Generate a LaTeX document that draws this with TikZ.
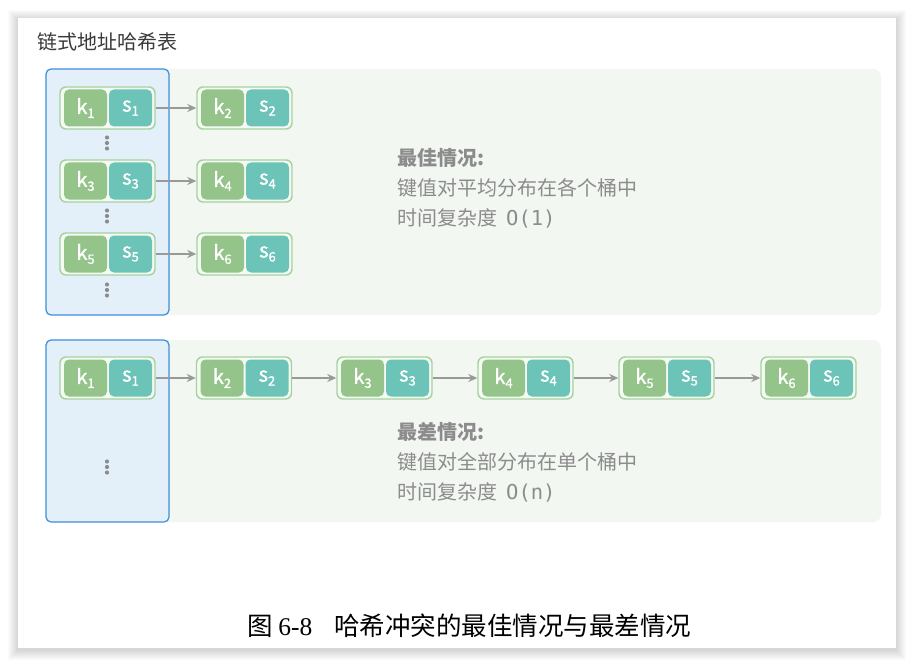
\documentclass[tikz,border=0pt]{standalone}
\usepackage{fontspec}
\setmainfont{Noto Sans CJK SC}
\newfontfamily\monof{DejaVu Sans Mono}
\newfontfamily\capnum{Liberation Serif}
\newfontfamily\cellf{Noto Sans CJK SC}[FakeBold=1.2]
\usetikzlibrary{arrows.meta,calc}
\definecolor{kfill}{HTML}{95C48B}
\definecolor{sfill}{HTML}{6CC3B8}
\definecolor{pairline}{HTML}{A3D39C}
\definecolor{pairfill}{HTML}{F5FAF4}
\definecolor{panelfill}{HTML}{F2F7F2}
\definecolor{bluefill}{HTML}{E3F0FA}
\definecolor{blueline}{HTML}{3D8FDB}
\definecolor{txtgray}{HTML}{8C8C8C}
\definecolor{titlegray}{HTML}{3A3A3A}
\definecolor{arrgray}{HTML}{999999}
\definecolor{dotgray}{HTML}{8C8C8C}
\newcommand\lab[2]{#1\raisebox{-4pt}{\fontsize{13}{13}\selectfont #2}}
\newcommand\kvp[4]{%
  \node[pairbox] (#1) at (#2,#3) {};
  \node[kbox] (#1k) at ([xshift=-22pt]#1.center) {\lab{k}{#4}};
  \node[sbox] (#1s) at ([xshift=23pt]#1.center) {\lab{s}{#4}};}
\newcommand\vdd[2]{\foreach \d in {-5.5,0,5.5} \fill[dotgray] (#1,#2+\d) circle (2.1);}
\begin{document}
\begin{tikzpicture}[x=1pt,y=-1pt,
  pairbox/.style={draw=pairline,fill=pairfill,line width=1.4pt,rounded corners=6pt,
    minimum width=95pt,minimum height=42pt,inner sep=0pt},
  cellbox/.style={rounded corners=5pt,minimum width=43pt,minimum height=37pt,inner sep=0pt,
    text=white,font=\cellf\fontsize{20}{20}\selectfont},
  kbox/.style={cellbox,fill=kfill},
  sbox/.style={cellbox,fill=sfill},
  arr/.style={draw=arrgray,line width=1.8pt,-{Stealth[length=9pt,width=8pt]}},
  desc/.style={anchor=west,text=txtgray,font=\fontsize{20}{20}\selectfont,inner sep=0pt},
  panel/.style={fill=panelfill,rounded corners=8pt},
  bucket/.style={fill=bluefill,draw=blueline,line width=1.2pt,rounded corners=5pt}]
\useasboundingbox (0,0) rectangle (913,666);
\fill[white] (0,0) rectangle (913,666);
% card shadow
\foreach \i in {1,...,10} {\fill[black,opacity=0.016] (18-\i,18-\i+2) rectangle (896+\i,648+\i+2);}
\fill[white] (18,18) rectangle (896,648);
% title
\node[anchor=west,text=titlegray,font=\fontsize{20}{20}\selectfont,inner sep=0pt] (title) at (37,42) {链式地址哈希表};
% panel 1
\path[panel] (46,69) rectangle (881,315);
\path[bucket] (46,69) rectangle (169,315);
\kvp{a1}{107.5}{108}{1}
\kvp{a3}{107.5}{181}{3}
\kvp{a5}{107.5}{254}{5}
\kvp{a2}{244.5}{108}{2}
\kvp{a4}{244.5}{181}{4}
\kvp{a6}{244.5}{254}{6}
\draw[arr] (a1.east) -- (a2.west);
\draw[arr] (a3.east) -- (a4.west);
\draw[arr] (a5.east) -- (a6.west);
\vdd{107}{143}
\vdd{107}{216}
\vdd{107}{290}
\node[desc,font=\fontsize{20}{20}\selectfont\bfseries] (best) at (397,158) {最佳情况:};
\node[desc] (bestA) at (397,188) {键值对平均分布在各个桶中};
\node[desc] (bestB) at (397,218) {时间复杂度\hspace{9pt}{\monof\fontsize{20.5}{20}\selectfont O(1)}};
% panel 2
\path[panel] (46,340) rectangle (881,522);
\path[bucket] (46,340) rectangle (169,522);
\kvp{b1}{107.5}{378}{1}
\kvp{b2}{244}{378}{2}
\kvp{b3}{384.5}{378}{3}
\kvp{b4}{525.5}{378}{4}
\kvp{b5}{666.5}{378}{5}
\kvp{b6}{808.5}{378}{6}
\draw[arr] (b1.east) -- (b2.west);
\draw[arr] (b2.east) -- (b3.west);
\draw[arr] (b3.east) -- (b4.west);
\draw[arr] (b4.east) -- (b5.west);
\draw[arr] (b5.east) -- (b6.west);
\vdd{107}{467}
\node[desc,font=\fontsize{20}{20}\selectfont\bfseries] (worst) at (397,432) {最差情况:};
\node[desc] (worstA) at (397,462) {键值对全部分布在单个桶中};
\node[desc] (worstB) at (397,492) {时间复杂度\hspace{9pt}{\monof\fontsize{20.5}{20}\selectfont O(n)}};
% caption
\node[anchor=west,text=black,font=\fontsize{25.5}{25.5}\selectfont,inner sep=0pt] (cap) at (247,626) {图 {\capnum 6-8}\hspace{22pt}哈希冲突的最佳情况与最差情况};
\end{tikzpicture}
\end{document}
